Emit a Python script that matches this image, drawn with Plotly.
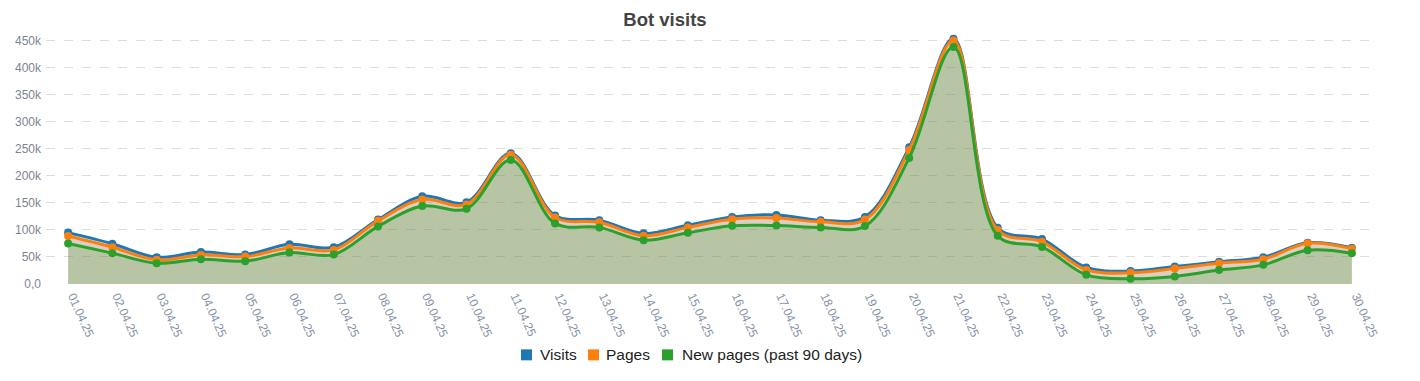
import plotly.graph_objects as go

dates = ["01.04.25","02.04.25","03.04.25","04.04.25","05.04.25","06.04.25","07.04.25","08.04.25",
         "09.04.25","10.04.25","11.04.25","12.04.25","13.04.25","14.04.25","15.04.25","16.04.25",
         "17.04.25","18.04.25","19.04.25","20.04.25","21.04.25","22.04.25","23.04.25","24.04.25",
         "25.04.25","26.04.25","27.04.25","28.04.25","29.04.25","30.04.25"]

visits = [95000, 74500, 49500, 59000, 54300, 73400, 67900, 119000, 162000, 151000,
          241500, 126600, 118000, 93600, 108800, 124000, 127700, 118000, 124000, 252500,
          453000, 104000, 83000, 30500, 23800, 32300, 41000, 49500, 76300, 67000]
pages = [88600, 68000, 44600, 53800, 50600, 66600, 63000, 116700, 156000, 147000,
         239000, 123000, 114000, 89000, 104600, 119800, 122000, 114900, 119000, 247700,
         450000, 99600, 78000, 26000, 20700, 28600, 38500, 45800, 75200, 65300]
new_pages = [75000, 57000, 38500, 45800, 42200, 58000, 54300, 106400, 144000, 139000,
             229000, 112000, 104600, 81000, 94700, 107500, 108000, 104600, 107000, 233000,
             437800, 89000, 68400, 17000, 9700, 14000, 25700, 35400, 62400, 57000]

series_names = ["Visits", "Pages", "New pages (past 90 days)"]
colors = ["#1f77b4", "#ff7f0e", "#2ca02c"]
fills = ["rgba(31,119,180,0.2)", "rgba(255,127,14,0.2)", "rgba(44,160,44,0.2)"]

y_ticks = [0, 50000, 100000, 150000, 200000, 250000, 300000, 350000, 400000, 450000]
y_tick_text = ["0,0", "50k", "100k", "150k", "200k", "250k", "300k", "350k", "400k", "450k"]

# page body has an 8px margin; figure sized to fit the window
OFF = 8
W, H = 1404, 365
L, R, T, B = 38, 38, 25.5, 89
PW, PH = W - L - R, H - T - B

def px_x(page_x):
    return (page_x - OFF - L) / PW

def px_y(page_y):
    return (H - B - (page_y - OFF)) / PH

fig = go.Figure()
for name, vals, col, fc in zip(series_names, [visits, pages, new_pages], colors, fills):
    fig.add_trace(go.Scatter(
        x=dates, y=vals, name=name, mode="lines+markers",
        line=dict(color=col, width=3, shape="spline", smoothing=1.0),
        marker=dict(color=col, size=8),
        fill="tozeroy", fillcolor=fc, showlegend=False, hoverinfo="x+y+name"))

# custom legend (square swatch + label), positioned below the plot
legend_sq_x = [521, 588, 662]
legend_tx_x = [538, 604, 680]
legend_y = 355
for name, col, sx, tx in zip(series_names, colors, legend_sq_x, legend_tx_x):
    fig.add_shape(type="rect", xref="paper", yref="paper",
                  x0=px_x(sx), x1=px_x(sx + 11),
                  y0=px_y(legend_y + 5.5), y1=px_y(legend_y - 5.5),
                  fillcolor=col, line=dict(width=0))
    fig.add_annotation(text=name, xref="paper", yref="paper",
                       x=px_x(tx), y=px_y(legend_y),
                       xanchor="left", yanchor="middle", showarrow=False,
                       font=dict(family="Liberation Sans, Arial, sans-serif", size=15.5, color="#222"))

fig.update_layout(
    width=W, height=H,
    paper_bgcolor="white", plot_bgcolor="white",
    margin=dict(l=L, r=R, t=T, b=B),
    title=dict(text="<b>Bot visits</b>", x=(665 - OFF) / W, xanchor="center",
               y=1 - 12 / H, yanchor="middle",
               font=dict(family="Liberation Sans, Arial, sans-serif", size=18.5, color="#444444")),
    font=dict(family="Liberation Sans, Arial, sans-serif"),
    showlegend=False,
)
fig.update_xaxes(type="category", tickangle=66, tickfont=dict(size=12, color="#8390a6"),
                 showgrid=False, showline=False, zeroline=False, ticks="",
                 ticklabelshift=5, ticklabelstandoff=2,
                 range=[-0.5, len(dates) - 0.5], automargin=False)
fig.update_yaxes(range=[0, 462000], tickvals=y_ticks, ticktext=y_tick_text,
                 tickfont=dict(size=12, color="#7d8494"), ticklabelstandoff=4,
                 showgrid=True, gridcolor="#dddddd", griddash="dash", gridwidth=1,
                 zeroline=False, showline=False, ticks="", automargin=False)

fig.write_html("out.html")
